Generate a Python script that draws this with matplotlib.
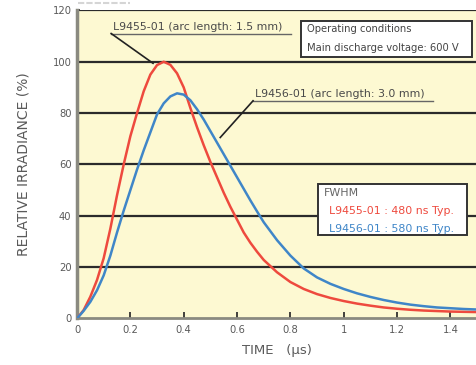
import numpy as np
import matplotlib.pyplot as plt
from matplotlib.patches import Rectangle
from matplotlib.lines import Line2D

# time axis (us) and relative irradiance (%)
t_red = [0, 0.025, 0.05, 0.075, 0.10, 0.125, 0.15, 0.175, 0.20, 0.225, 0.25, 0.275,
         0.30, 0.325, 0.35, 0.375, 0.40, 0.425, 0.45, 0.475, 0.50, 0.525, 0.55, 0.575,
         0.60, 0.625, 0.65, 0.675, 0.70, 0.75, 0.80, 0.85, 0.90, 0.95, 1.00, 1.05,
         1.10, 1.15, 1.20, 1.25, 1.30, 1.35, 1.40, 1.45, 1.50]
irr_red = [0, 3.3, 8.5, 15, 23.5, 35, 48, 60, 71, 80, 88.5, 95,
           98.7, 100, 98.8, 95.5, 90, 82, 74.5, 67.5, 61, 55, 49, 43.5,
           38.5, 33.5, 29.5, 26, 22.8, 18, 14.2, 11.5, 9.5, 8, 6.8, 5.8,
           5, 4.3, 3.8, 3.4, 3.1, 2.9, 2.7, 2.6, 2.5]

t_blue = [0, 0.025, 0.05, 0.075, 0.10, 0.125, 0.15, 0.175, 0.20, 0.225, 0.25, 0.275,
          0.30, 0.325, 0.35, 0.375, 0.40, 0.425, 0.45, 0.475, 0.50, 0.525, 0.55, 0.575,
          0.60, 0.625, 0.65, 0.675, 0.70, 0.75, 0.80, 0.85, 0.90, 0.95, 1.00, 1.05,
          1.10, 1.15, 1.20, 1.25, 1.30, 1.35, 1.40, 1.45, 1.50]
irr_blue = [0, 3, 6.5, 11, 16.8, 24.5, 33.5, 42, 50, 58, 65.5, 72.5,
            79.5, 83.8, 86.5, 87.7, 87.2, 85, 81.5, 77.5, 73, 68.5, 64, 59.5,
            55, 50.5, 46, 41.7, 37.5, 30.5, 24.5, 19.5, 16, 13.5, 11.5, 9.8,
            8.4, 7.2, 6.2, 5.4, 4.8, 4.3, 4.0, 3.7, 3.5]

x_ticks = [0, 0.2, 0.4, 0.6, 0.8, 1, 1.2, 1.4]
x_labels = ["0", "0.2", "0.4", "0.6", "0.8", "1", "1.2", "1.4"]
y_ticks = [0, 20, 40, 60, 80, 100, 120]

RED = "#ee4a3e"
BLUE = "#3f86c8"
BG = "#fdf9d2"
TXT = "#5a5a5a"

fig = plt.figure(figsize=(4.76, 3.65), dpi=100)
ax = fig.add_axes([0.1618, 0.1274, 0.8405, 0.8441])
ax.set_facecolor(BG)

for yv in y_ticks[1:]:
    ax.axhline(yv, color="#2b2b2b", lw=1.6, zorder=1)

ax.plot(t_red, irr_red, color=RED, lw=1.8, zorder=3)
ax.plot(t_blue, irr_blue, color=BLUE, lw=1.8, zorder=3)

ax.set_xlim(0, 1.5)
ax.set_ylim(0, 120)
ax.set_xticks(x_ticks)
ax.set_xticklabels(x_labels)
ax.set_yticks(y_ticks)
ax.tick_params(axis="x", direction="in", length=4, width=1.2, color="#222222",
               labelsize=7.2, labelcolor=TXT, pad=5)
ax.tick_params(axis="y", direction="in", length=2.5, width=1.2, color="#222222",
               labelsize=7.2, labelcolor=TXT, pad=4)

for side in ["top", "right"]:
    ax.spines[side].set_visible(False)
ax.spines["left"].set_color("#8a8a80")
ax.spines["left"].set_linewidth(2.5)
ax.spines["bottom"].set_color("#8a8a80")
ax.spines["bottom"].set_linewidth(2)

ax.set_xlabel("TIME   (µs)", fontsize=9.5, color=TXT, labelpad=6)
ax.set_ylabel("RELATIVE IRRADIANCE (%)", fontsize=10, color=TXT, labelpad=16)

# annotation for L9455-01
ax.text(0.134, 111.5, "L9455-01 (arc length: 1.5 mm)", fontsize=7.9, color="#4a4a4a",
        ha="left", va="bottom", zorder=5)
ax.plot([0.128, 0.803], [111.0, 111.0], color="#666666", lw=1, zorder=5)
ax.plot([0.128, 0.285], [111.0, 99.4], color="#222222", lw=1.2, zorder=5)

# annotation for L9456-01
ax.text(0.667, 85.3, "L9456-01 (arc length: 3.0 mm)", fontsize=7.9, color="#4a4a4a",
        ha="left", va="bottom", zorder=5)
ax.plot([0.660, 1.336], [84.8, 84.8], color="#666666", lw=1, zorder=5)
ax.plot([0.660, 0.537], [84.8, 70.5], color="#222222", lw=1.2, zorder=5)

# operating conditions box
ax.add_patch(Rectangle((0.841, 101.8), 0.641, 14.0, facecolor="white",
                       edgecolor="#333333", lw=1.4, zorder=6))
ax.text(0.862, 112.6, "Operating conditions", fontsize=7.2, color="#444444",
        ha="left", va="center", zorder=7)
ax.text(0.862, 105.4, "Main discharge voltage: 600 V", fontsize=7.2, color="#444444",
        ha="left", va="center", zorder=7)

# FWHM box
ax.add_patch(Rectangle((0.904, 32.6), 0.559, 19.9, facecolor="white",
                       edgecolor="#333333", lw=1.4, zorder=6))
ax.text(0.925, 48.9, "FWHM", fontsize=7.9, color="#666666", ha="left", va="center", zorder=7)
ax.text(0.945, 41.7, "L9455-01 : 480 ns Typ.", fontsize=7.9, color=RED,
        ha="left", va="center", zorder=7)
ax.text(0.945, 34.8, "L9456-01 : 580 ns Typ.", fontsize=7.9, color=BLUE,
        ha="left", va="center", zorder=7)

# faint strip at the top-left corner of the scan
fig.add_artist(Line2D([78 / 476, 130 / 476], [1 - 3 / 365, 1 - 3 / 365],
                      color="#d5d5d5", lw=1.5, linestyle=(0, (3, 1))))

fig.savefig("out.png", dpi=100)
